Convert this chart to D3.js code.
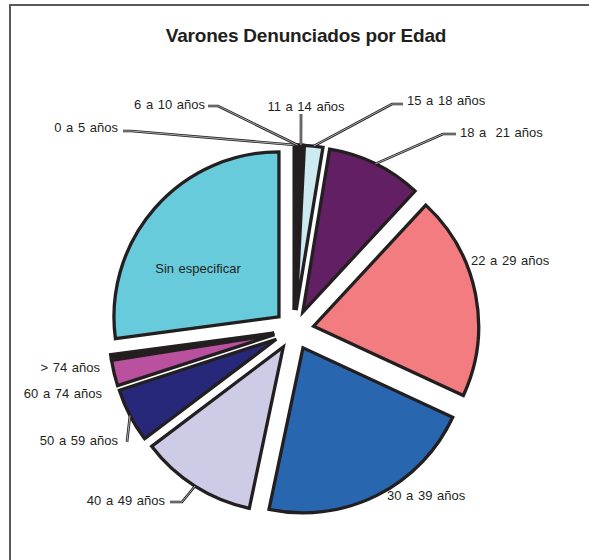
<!DOCTYPE html>
<html>
<head>
<meta charset="utf-8">
<script src="https://cdn.jsdelivr.net/npm/d3@7"></script>
<style>
  body { margin: 0; background: #fff; }
  text { font-family: "Liberation Sans", Arial, sans-serif; fill: #231f20; }
</style>
</head>
<body>
<script>
// categories and values (percent of total)
var categorias = ["0 a 5 años", "6 a 10 años", "11 a 14 años", "15 a 18 años", "18 a  21 años",
  "22 a 29 años", "30 a 39 años", "40 a 49 años", "50 a 59 años", "60 a 74 años", "> 74 años", "Sin especificar"];
var porcentajes = [0.2, 0.2, 0.4, 1.8, 9.3, 20.0, 21.4, 11.4, 5.3, 2.5, 0.4, 27.1];
var colores = ["#231f20", "#231f20", "#231f20", "#cdeaf0", "#621f63", "#f27c7f",
  "#2867b0", "#cdcbe6", "#27287a", "#b9519f", "#231f20", "#68cbdc"];

// where each label sits (x, baseline y, anchor) and its leader elbow, if any
var etiquetas = [
  {x: 118, y: 132, a: "end", guia: [[123, 131], [131, 131]]},
  {x: 205, y: 109, a: "end", guia: [[208, 106], [218, 106]]},
  {x: 306, y: 111, a: "middle", guia: [[301, 114]]},
  {x: 407, y: 105, a: "start", guia: [[403, 104], [392, 104]]},
  {x: 460, y: 137, a: "start", guia: [[456, 134], [443, 134]]},
  {x: 471, y: 265, a: "start", guia: null},
  {x: 387, y: 500, a: "start", guia: null},
  {x: 165, y: 505, a: "end", guia: [[170, 502], [182, 502]]},
  {x: 118, y: 445, a: "end", guia: [[127, 442]]},
  {x: 102, y: 398, a: "end", guia: null},
  {x: 100, y: 372, a: "end", guia: null},
  {x: 198, y: 273, a: "middle", guia: null}
];

var width = 589, height = 560;
var cx = 294, cy = 330, radio = 165, separacion = 20;

var svg = d3.select("body").append("svg")
    .attr("width", width)
    .attr("height", height);

// frame
svg.append("rect")
    .attr("x", 10).attr("y", 5)
    .attr("width", 620).attr("height", 620)
    .attr("fill", "none")
    .attr("stroke", "#5a5a5a")
    .attr("stroke-width", 2);

svg.append("text")
    .attr("x", 306).attr("y", 42)
    .attr("text-anchor", "middle")
    .style("font-size", "19px")
    .style("font-weight", "bold")
    .style("letter-spacing", "-0.2px")
    .text("Varones Denunciados por Edad");

var pie = d3.pie().sort(null).value(function(d) { return d; });
var arcos = pie(porcentajes);
var arc = d3.arc().innerRadius(0).outerRadius(radio);

function desplaza(d) {
  var m = (d.startAngle + d.endAngle) / 2;
  return [separacion * Math.sin(m), -separacion * Math.cos(m)];
}
function bordeExterior(d) {
  var m = (d.startAngle + d.endAngle) / 2, o = desplaza(d);
  return [cx + o[0] + radio * Math.sin(m), cy + o[1] - radio * Math.cos(m)];
}

var g = svg.append("g").attr("transform", "translate(" + cx + "," + cy + ")");
g.selectAll("path.slice")
  .data(arcos)
  .enter()
  .append("path")
    .attr("class", "slice")
    .attr("transform", function(d) { return "translate(" + desplaza(d) + ")"; })
    .attr("d", arc)
    .attr("fill", function(d, i) { return colores[i]; })
    .attr("stroke", "#231f20")
    .attr("stroke-width", 3.3)
    .attr("stroke-linejoin", "miter");

// leader lines (drawn as a dark line with a light core)
var linea = d3.line();
arcos.forEach(function(d, i) {
  var e = etiquetas[i];
  if (!e.guia) return;
  var pts = e.guia.concat([bordeExterior(d)]);
  svg.append("path").attr("d", linea(pts)).attr("fill", "none")
    .attr("stroke", "#231f20").attr("stroke-width", 2.6);
  svg.append("path").attr("d", linea(pts)).attr("fill", "none")
    .attr("stroke", "#ffffff").attr("stroke-width", 0.8).attr("stroke-opacity", 0.8);
});

svg.selectAll("text.lbl")
  .data(categorias)
  .enter()
  .append("text")
    .attr("class", "lbl")
    .attr("x", function(d, i) { return etiquetas[i].x; })
    .attr("y", function(d, i) { return etiquetas[i].y; })
    .attr("text-anchor", function(d, i) { return etiquetas[i].a; })
    .style("font-size", "13px")
    .style("word-spacing", "1px")
    .style("white-space", "pre")
    .text(function(d) { return d; });
</script>
</body>
</html>
